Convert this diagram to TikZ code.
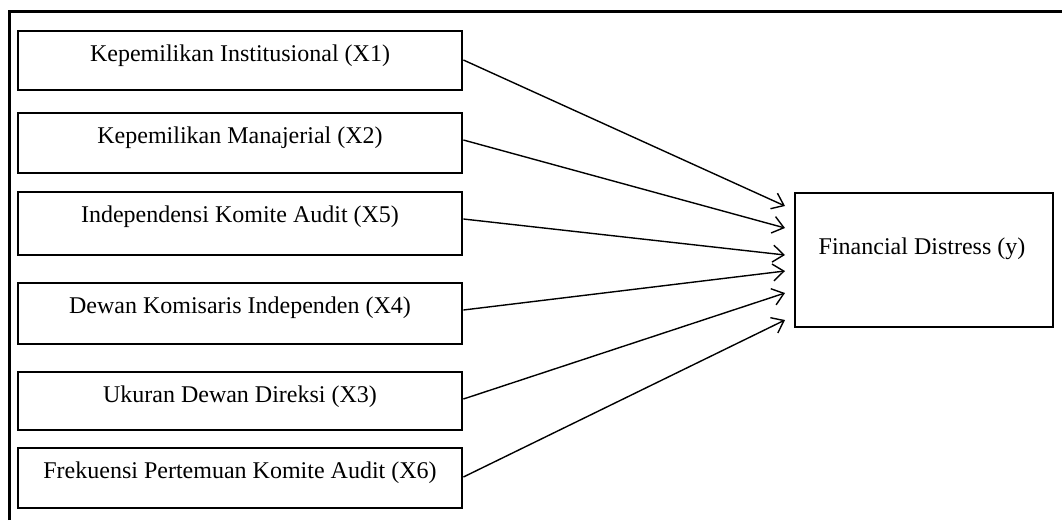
\documentclass[tikz,border=0pt]{standalone}
\usepackage{fontspec}
\setmainfont{Liberation Serif}
\usetikzlibrary{arrows.meta}
\begin{document}
\begin{tikzpicture}[x=1pt,y=-1pt,
  box/.style={draw, line width=2.8pt, minimum width=444pt, inner sep=0pt},
  lbl/.style={anchor=base, inner sep=0pt, font=\fontsize{24}{28}\selectfont},
  link/.style={line width=1.4pt, -{Straight Barb[length=11pt,width=17pt,line width=1.4pt]}},
  frameline/.style={line width=3pt}]
\useasboundingbox (0,0) rectangle (1062,520);
% outer frame (top and left edges)
\coordinate (fa) at (9,520);
\coordinate (fb) at (9,11);
\coordinate (fc) at (1062,11);
\draw[frameline] (fa) -- (fb) -- (fc);
% left boxes
\node[box, minimum height=59pt] (b1) at (240,60.5) {};
\node[box, minimum height=60pt] (b2) at (240,143) {};
\node[box, minimum height=63pt] (b3) at (240,223.5) {};
\node[box, minimum height=61pt] (b4) at (240,313.5) {};
\node[box, minimum height=58pt] (b5) at (240,401) {};
\node[box, minimum height=60pt] (b6) at (240,478) {};
\node[lbl] (l1) at (240,61) {Kepemilikan Institusional (X1)};
\node[lbl] (l2) at (240,143) {Kepemilikan Manajerial (X2)};
\node[lbl] (l3) at (240,222) {Independensi Komite Audit (X5)};
\node[lbl] (l4) at (240,313) {Dewan Komisaris Independen (X4)};
\node[lbl] (l5) at (240,402) {Ukuran Dewan Direksi (X3)};
\node[lbl] (l6) at (240,478) {Frekuensi Pertemuan Komite Audit (X6)};
% right box
\node[draw, line width=2.8pt, minimum width=258pt, minimum height=134pt, inner sep=0pt] (fd) at (924,260) {};
\node[lbl] (lfd) at (922,254) {Financial Distress (y)};
% arrow targets
\coordinate (t1) at (785,206);
\coordinate (t2) at (785,228);
\coordinate (t3) at (785,255);
\coordinate (t4) at (785,271);
\coordinate (t5) at (785,293);
\coordinate (t6) at (785,320);
\draw[link] ([yshift=0.5pt]b1.east) -- (t1);
\draw[link] ([yshift=3pt]b2.east) -- (t2);
\draw[link] ([yshift=4.5pt]b3.east) -- (t3);
\draw[link] ([yshift=3.5pt]b4.east) -- (t4);
\draw[link] ([yshift=2pt]b5.east) -- (t5);
\draw[link] ([yshift=1pt]b6.east) -- (t6);
\end{tikzpicture}
\end{document}
